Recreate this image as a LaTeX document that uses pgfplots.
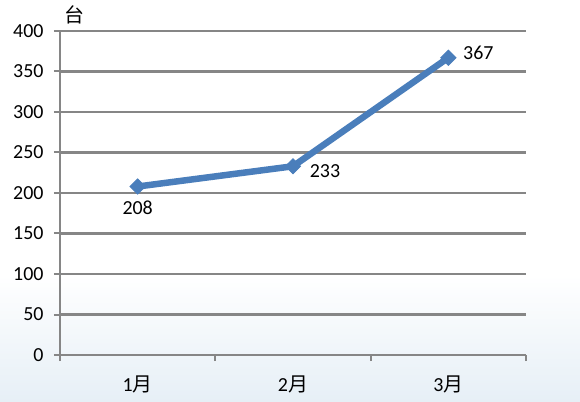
\documentclass[border=0pt]{standalone}
\usepackage{pgfplots}
\pgfplotsset{compat=1.18}
\usepackage{fontspec}
\setmainfont{Carlito}
\newfontfamily\cjk{Noto Sans CJK SC}
\definecolor{gridgray}{HTML}{868686}
\definecolor{lineblue}{HTML}{4A7EBB}
\definecolor{bgblue}{RGB}{230,239,246}

\pgfplotstableread{
x  y    lbl  dx  dy
0  208  208  0   -21
1  233  233  32  -5
2  367  367  30  5
}\monthly

\begin{document}
\begin{tikzpicture}
  \useasboundingbox (-60bp,-47bp) rectangle (520bp,355bp);
  \shade[top color=white, bottom color=bgblue] (-60bp,-47bp) rectangle (520bp,80bp);
  \begin{axis}[
      scale only axis,
      width=466bp, height=324bp,
      font=\fontsize{20}{24}\selectfont,
      /pgf/number format/assume math mode=true,
      xmin=-0.5, xmax=2.5, ymin=0, ymax=400,
      ytick={0,50,...,400},
      xtick={-0.5,0.5,1.5,2.5}, xticklabels={},
      extra x ticks={0,1,2},
      extra x tick labels={1{\cjk 月},2{\cjk 月},3{\cjk 月}},
      extra x tick style={major tick length=0pt, grid=none,
        xticklabel style={yshift=-17bp}},
      axis x line*=bottom, axis y line*=left,
      axis line style={gridgray, line width=2.2bp, -},
      tick align=outside, major tick length=6bp,
      tick style={gridgray, line width=2bp},
      ymajorgrids, grid style={gridgray, line width=2.2bp},
      yticklabel style={xshift=-7bp},
      ylabel={\cjk 台},
      ylabel style={at={(axis description cs:0.032,1.049)}, rotate=-90, anchor=center},
      clip=false,
    ]
    \addplot[lineblue, line width=6.5bp, mark=square*, mark size=5.3bp,
      mark options={solid, rotate=45, fill=lineblue, draw=lineblue, line width=1bp},
      visualization depends on={\thisrow{dx} \as \dx},
      visualization depends on={\thisrow{dy} \as \dy},
      point meta=explicit symbolic,
      nodes near coords,
      nodes near coords style={black, anchor=center, xshift=\dx bp, yshift=\dy bp,
        font=\fontsize{20}{24}\selectfont},
    ] table[x=x, y=y, meta=lbl] {\monthly};
  \end{axis}
\end{tikzpicture}
\end{document}
